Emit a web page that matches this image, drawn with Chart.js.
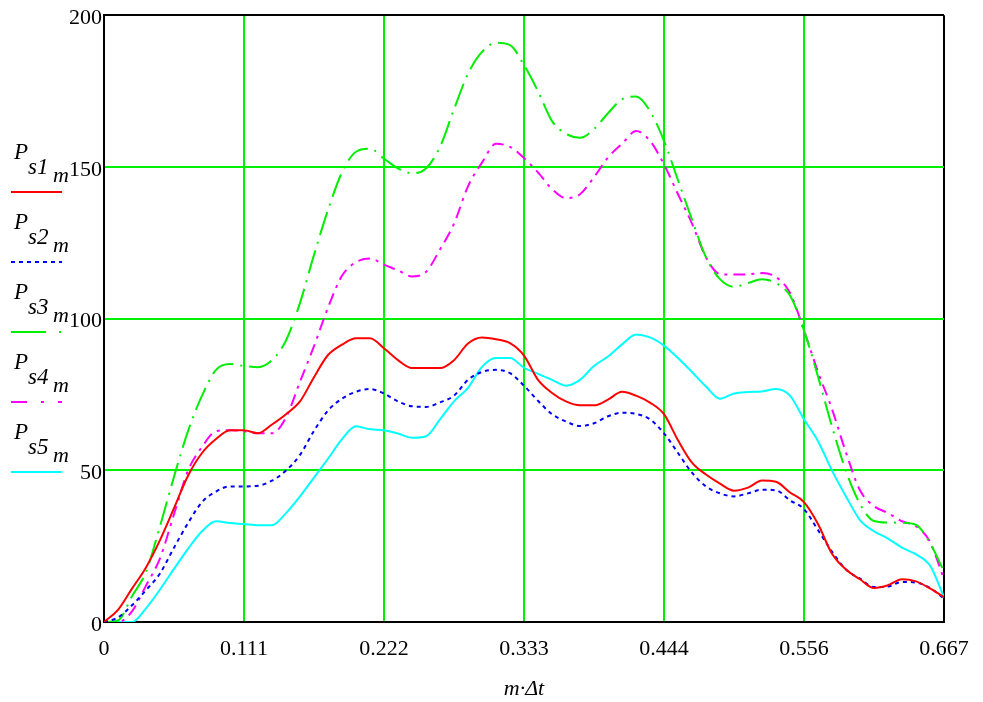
<!DOCTYPE html>
<html>
<head>
<meta charset="utf-8">
<script src="https://cdn.jsdelivr.net/npm/chart.js@4.4.1/dist/chart.umd.min.js"></script>
<style>
html,body{margin:0;padding:0;background:#fff}
#wrap{position:relative;width:983px;height:702px}
</style>
</head>
<body>
<div id="wrap"><canvas id="plot" width="983" height="702"></canvas></div>
<script>
// m·Δt sampling, Δt = 1/90
const dt=1/90;
const mDt=Array.from({length:61},(_,m)=>m*dt);

const ps1=[0,4,11,18,27,37.5,48.2,55.7,60.3,63.2,63.2,62.2,65.1,68.5,72.7,
  80.7,88.0,91.4,93.5,93.5,90.2,86.3,83.7,83.7,83.7,86.3,91.8,93.8,93.2,91.9,
  87.8,79.8,75.5,72.7,71.4,71.4,73.3,75.9,74.6,72.3,68.5,59.9,52.5,48.6,45.6,
  43.3,44.3,46.6,46.2,42.7,39.5,32.3,22.5,17.3,14.1,11.2,12.1,14.1,13.4,11.1,8.2];
const ps2=[0,1.5,5.5,10.5,16,24.5,32.6,39.5,43.0,44.7,44.7,44.9,46.6,49.9,55.1,
  63,69.7,73.6,75.9,76.8,75.3,72.7,71.1,70.9,72.4,74.6,79.8,82.4,83.1,82.0,
  77.9,72.9,68.5,66.1,64.6,65.5,67.8,69.0,68.6,66.8,62.2,55.7,49.2,44.7,42.4,
  41.4,42.4,43.6,43.4,40.1,37.2,30.3,23.2,17.3,14.3,11.5,11.7,13.2,13.0,11.2,7.8];
const ps3=[0,0.5,8.5,16.5,31.6,47.9,62.9,74.6,83.1,85.0,84.4,84.0,86.3,92.8,105.2,
  121,135.8,148.2,155.0,156.0,152.7,149.5,147.9,149.5,156.6,169.0,180.7,187.9,190.9,190.1,
  183.6,174.9,165.1,160.9,159.6,162.5,167.7,172.3,173.2,168.4,158.6,145.6,132.6,120.2,113.0,
  110.5,111.7,113.0,111.7,107.6,96.1,80.9,64.4,49.7,38.9,33.3,32.8,32.7,32.0,26.0,16.7];
const ps4=[0,0,3.5,12,21,35.5,49.9,57.7,62.9,63.2,62.9,62.2,62.2,67.4,79.2,
  90.9,103.6,114.1,118.6,119.8,117.8,115.9,113.9,115.4,122.8,131.3,143.6,151.4,157.6,156.6,
  152.9,148.2,142.7,139.7,141.0,146.6,153.1,157.6,161.8,158.6,150.8,141.0,131.3,120.2,114.7,
  114.5,114.6,115.0,113.7,108.5,96.1,82.4,70.2,55.8,43.4,38.2,35.9,33.2,31.6,26.4,14.1];
const ps5=[0,0,0,4.5,10.7,17.5,24.1,29.9,33.2,32.6,32.3,31.9,31.9,35.9,41.4,
  47.6,53.8,60.3,64.5,63.5,63.2,62.1,60.7,61.2,66.8,72.7,77.2,84.1,87.0,87.0,
  83.8,81.8,79.8,77.9,79.8,84.4,87.5,91.5,94.8,93.8,91.1,87.0,82.4,77.6,73.6,
  75.3,75.8,76.0,76.8,74.6,66.8,59.6,49.9,41.4,33.6,29.9,27.5,24.5,22.3,18.6,8.2];

const xTicks=[0,1/9,2/9,3/9,4/9,5/9,6/9];
const xTickLabels=["0","0.111","0.222","0.333","0.444","0.556","0.667"];
const yTicks=[0,50,100,150,200];

const names=["s1","s2","s3","s4","s5"];
const colors=["#ff0000","#0000ff","#00ee00","#ff00ff","#00ffff"];
const dashes=[[],[4,4],[24,7,2,7],[12,6,3,6],[]];
const series=[ps1,ps2,ps3,ps4,ps5];

const GRID="#00f000";
const SERIF='"Liberation Serif","Times New Roman",serif';

// Mathcad style legend on the left side
const sideLegend={
  id:"sideLegend",
  afterDraw(chart){
    const c=chart.ctx;
    c.save();
    c.fillStyle="#000";
    c.textAlign="left";
    c.textBaseline="alphabetic";
    names.forEach((n,k)=>{
      const y=159+70*k;
      c.font="italic 23px "+SERIF;
      c.fillText("P",14,y);
      c.fillText(n,28,y+15);
      c.font="italic 22px "+SERIF;
      c.fillText("m",53,y+23);
      c.strokeStyle=colors[k];
      c.lineWidth=2;
      c.setLineDash(k==1?[4,4]:k==2?[35,13,2,13]:k==3?[16,14,3,14]:[]);
      c.beginPath();
      c.moveTo(11,192+70*k);
      c.lineTo(62,192+70*k);
      c.stroke();
    });
    c.restore();
  }
};

new Chart(document.getElementById("plot"),{
  type:"line",
  data:{
    datasets:series.map((s,k)=>({
      label:"P"+names[k]+"m",
      data:s.map((v,i)=>({x:mDt[i],y:v})),
      borderColor:colors[k],
      borderWidth:2,
      borderDash:dashes[k],
      pointRadius:0,
      fill:false,
      tension:0.3,
      cubicInterpolationMode:"monotone"
    }))
  },
  plugins:[sideLegend],
  options:{
    responsive:false,
    animation:false,
    layout:{padding:{left:0,right:39,top:14,bottom:0}},
    plugins:{legend:{display:false},tooltip:{enabled:false}},
    scales:{
      x:{
        type:"linear",
        min:0,max:2/3,
        afterBuildTicks:s=>{s.ticks=xTicks.map(v=>({value:v}));},
        afterFit:s=>{s.height=80;},
        ticks:{
          callback:(v,i)=>xTickLabels[i],
          color:"#000",
          font:{family:SERIF,size:22},
          padding:14,
          maxRotation:0,
          autoSkip:false
        },
        grid:{
          color:ctx=>(ctx.index===0||ctx.index===6)?"#000":GRID,
          lineWidth:2,
          drawTicks:false
        },
        border:{color:"#000",width:2},
        title:{
          display:true,
          text:"m·Δt",
          color:"#000",
          font:{family:SERIF,size:22,style:"italic"},
          padding:{top:0,bottom:0}
        }
      },
      y:{
        min:0,max:200,
        afterBuildTicks:s=>{s.ticks=yTicks.map(v=>({value:v}));},
        afterFit:s=>{s.width=104;},
        ticks:{
          color:"#000",
          font:{family:SERIF,size:22},
          padding:2,
          labelOffset:3
        },
        grid:{
          color:ctx=>(ctx.tick&&(ctx.tick.value===0||ctx.tick.value===200))?"#000":GRID,
          lineWidth:2,
          drawTicks:false
        },
        border:{color:"#000",width:2}
      }
    }
  }
});
</script>
</body>
</html>
